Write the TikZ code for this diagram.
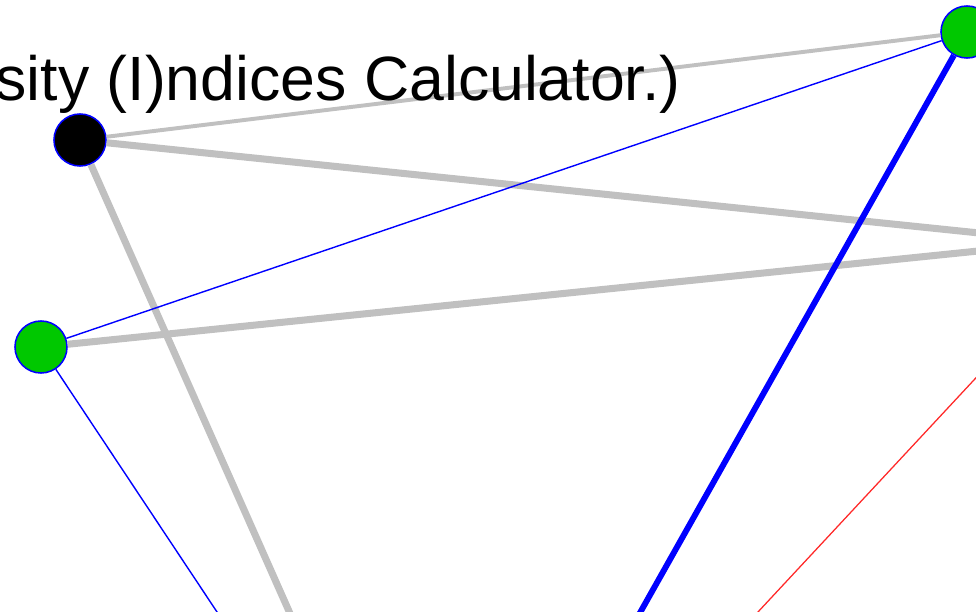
\documentclass[tikz,border=0pt]{standalone}
\usepackage{fontspec}
\setmainfont{Liberation Sans}
\usetikzlibrary{positioning}
\definecolor{divGray}{RGB}{192,192,192}
\definecolor{divBlue}{RGB}{0,0,255}
\definecolor{divGreen}{RGB}{0,200,0}
\definecolor{divRed}{RGB}{255,40,40}

\begin{document}
\begin{tikzpicture}[
    x=0.025cm, y=-0.025cm,
    vtx/.style={circle, draw=divBlue, line width=1.1pt, inner sep=0pt,
                minimum size=1.3cm},
    grayedge/.style={draw=divGray, line width=5pt},
    graythin/.style={draw=divGray, line width=2.8pt},
    blueedge/.style={draw=divBlue, line width=4.2pt},
    bluethin/.style={draw=divBlue, line width=1pt},
    rededge/.style={draw=divRed, line width=0.9pt}
  ]
  \useasboundingbox (0,0) rectangle (976,612);
  \clip (0,0) rectangle (976,612);

  % vertices
  \node[vtx, fill=black]     (blk)  at (80,140)  {};
  \node[vtx, fill=divGreen]  (gl)   at (41,347)  {};
  \node[vtx, fill=divGreen]  (gtr)  at (967,32)  {};

  % loose ends leaving the frame
  \coordinate (offA) at (1076,243);
  \coordinate (offB) at (1076,241);
  \coordinate (offR) at (1000,352);
  \coordinate (botG) at (296,627);
  \coordinate (botB) at (227,627);
  \coordinate (botT) at (632,627);
  \coordinate (botR) at (744,627);

  % edges
  \path[graythin] (blk) -- (gtr);
  \path[grayedge] (blk) -- (offA);
  \path[grayedge] (gl) -- (offB);
  \path[grayedge] (blk) -- (botG);
  \path[bluethin] (gl) -- (gtr);
  \path[bluethin] (gl) -- (botB);
  \path[blueedge] (gtr) -- (botT);
  \path[rededge] (offR) -- (botR);

  \node[anchor=base east, inner sep=0pt, font=\fontsize{44.5}{52}\selectfont]
    (title) at (681,100) {sity (I)ndices Calculator.)};
\end{tikzpicture}
\end{document}
